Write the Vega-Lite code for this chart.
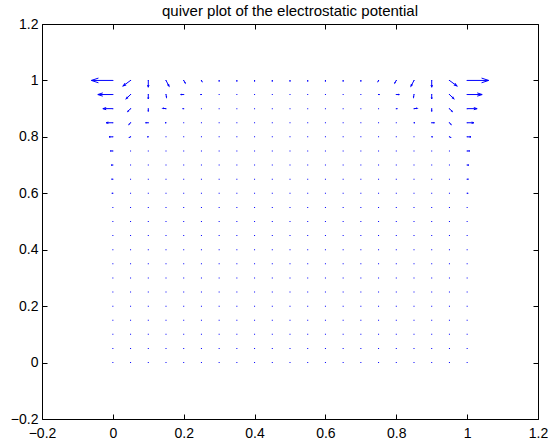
{
  "$schema": "https://vega.github.io/schema/vega-lite/v6.json",
  "width": 548,
  "height": 443,
  "autosize": {"type": "fit", "contains": "padding"},
  "padding": {"left": 10, "top": 4, "right": 0, "bottom": 3},
  "background": "white",
  "title": {"text": "quiver plot of the electrostatic potential", "font": "Liberation Sans", "fontSize": 15, "fontWeight": "normal", "color": "#000000", "offset": -2, "anchor": "middle"},
  "config": {
    "view": {"stroke": "#000000", "strokeWidth": 1},
    "axis": {"grid": false, "title": null, "labelFont": "Liberation Sans", "labelFontSize": 14, "labelColor": "black", "ticks": true, "tickColor": "#000000", "tickWidth": 1, "domain": false, "tickSize": 5, "offset": -5, "labelFlush": false, "labelOverlap": false, "format": "~g"}
  },
  "datasets": {
    "grid": [
      {"x":0,"y":0},{"x":0.05,"y":0},{"x":0.1,"y":0},{"x":0.15,"y":0},{"x":0.2,"y":0},{"x":0.25,"y":0},{"x":0.3,"y":0},{"x":0.35,"y":0},{"x":0.4,"y":0},{"x":0.45,"y":0},{"x":0.5,"y":0},{"x":0.55,"y":0},{"x":0.6,"y":0},{"x":0.65,"y":0},{"x":0.7,"y":0},{"x":0.75,"y":0},{"x":0.8,"y":0},{"x":0.85,"y":0},{"x":0.9,"y":0},{"x":0.95,"y":0},{"x":1,"y":0},
      {"x":0,"y":0.05},{"x":0.05,"y":0.05},{"x":0.1,"y":0.05},{"x":0.15,"y":0.05},{"x":0.2,"y":0.05},{"x":0.25,"y":0.05},{"x":0.3,"y":0.05},{"x":0.35,"y":0.05},{"x":0.4,"y":0.05},{"x":0.45,"y":0.05},{"x":0.5,"y":0.05},{"x":0.55,"y":0.05},{"x":0.6,"y":0.05},{"x":0.65,"y":0.05},{"x":0.7,"y":0.05},{"x":0.75,"y":0.05},{"x":0.8,"y":0.05},{"x":0.85,"y":0.05},{"x":0.9,"y":0.05},{"x":0.95,"y":0.05},{"x":1,"y":0.05},
      {"x":0,"y":0.1},{"x":0.05,"y":0.1},{"x":0.1,"y":0.1},{"x":0.15,"y":0.1},{"x":0.2,"y":0.1},{"x":0.25,"y":0.1},{"x":0.3,"y":0.1},{"x":0.35,"y":0.1},{"x":0.4,"y":0.1},{"x":0.45,"y":0.1},{"x":0.5,"y":0.1},{"x":0.55,"y":0.1},{"x":0.6,"y":0.1},{"x":0.65,"y":0.1},{"x":0.7,"y":0.1},{"x":0.75,"y":0.1},{"x":0.8,"y":0.1},{"x":0.85,"y":0.1},{"x":0.9,"y":0.1},{"x":0.95,"y":0.1},{"x":1,"y":0.1},
      {"x":0,"y":0.15},{"x":0.05,"y":0.15},{"x":0.1,"y":0.15},{"x":0.15,"y":0.15},{"x":0.2,"y":0.15},{"x":0.25,"y":0.15},{"x":0.3,"y":0.15},{"x":0.35,"y":0.15},{"x":0.4,"y":0.15},{"x":0.45,"y":0.15},{"x":0.5,"y":0.15},{"x":0.55,"y":0.15},{"x":0.6,"y":0.15},{"x":0.65,"y":0.15},{"x":0.7,"y":0.15},{"x":0.75,"y":0.15},{"x":0.8,"y":0.15},{"x":0.85,"y":0.15},{"x":0.9,"y":0.15},{"x":0.95,"y":0.15},{"x":1,"y":0.15},
      {"x":0,"y":0.2},{"x":0.05,"y":0.2},{"x":0.1,"y":0.2},{"x":0.15,"y":0.2},{"x":0.2,"y":0.2},{"x":0.25,"y":0.2},{"x":0.3,"y":0.2},{"x":0.35,"y":0.2},{"x":0.4,"y":0.2},{"x":0.45,"y":0.2},{"x":0.5,"y":0.2},{"x":0.55,"y":0.2},{"x":0.6,"y":0.2},{"x":0.65,"y":0.2},{"x":0.7,"y":0.2},{"x":0.75,"y":0.2},{"x":0.8,"y":0.2},{"x":0.85,"y":0.2},{"x":0.9,"y":0.2},{"x":0.95,"y":0.2},{"x":1,"y":0.2},
      {"x":0,"y":0.25},{"x":0.05,"y":0.25},{"x":0.1,"y":0.25},{"x":0.15,"y":0.25},{"x":0.2,"y":0.25},{"x":0.25,"y":0.25},{"x":0.3,"y":0.25},{"x":0.35,"y":0.25},{"x":0.4,"y":0.25},{"x":0.45,"y":0.25},{"x":0.5,"y":0.25},{"x":0.55,"y":0.25},{"x":0.6,"y":0.25},{"x":0.65,"y":0.25},{"x":0.7,"y":0.25},{"x":0.75,"y":0.25},{"x":0.8,"y":0.25},{"x":0.85,"y":0.25},{"x":0.9,"y":0.25},{"x":0.95,"y":0.25},{"x":1,"y":0.25},
      {"x":0,"y":0.3},{"x":0.05,"y":0.3},{"x":0.1,"y":0.3},{"x":0.15,"y":0.3},{"x":0.2,"y":0.3},{"x":0.25,"y":0.3},{"x":0.3,"y":0.3},{"x":0.35,"y":0.3},{"x":0.4,"y":0.3},{"x":0.45,"y":0.3},{"x":0.5,"y":0.3},{"x":0.55,"y":0.3},{"x":0.6,"y":0.3},{"x":0.65,"y":0.3},{"x":0.7,"y":0.3},{"x":0.75,"y":0.3},{"x":0.8,"y":0.3},{"x":0.85,"y":0.3},{"x":0.9,"y":0.3},{"x":0.95,"y":0.3},{"x":1,"y":0.3},
      {"x":0,"y":0.35},{"x":0.05,"y":0.35},{"x":0.1,"y":0.35},{"x":0.15,"y":0.35},{"x":0.2,"y":0.35},{"x":0.25,"y":0.35},{"x":0.3,"y":0.35},{"x":0.35,"y":0.35},{"x":0.4,"y":0.35},{"x":0.45,"y":0.35},{"x":0.5,"y":0.35},{"x":0.55,"y":0.35},{"x":0.6,"y":0.35},{"x":0.65,"y":0.35},{"x":0.7,"y":0.35},{"x":0.75,"y":0.35},{"x":0.8,"y":0.35},{"x":0.85,"y":0.35},{"x":0.9,"y":0.35},{"x":0.95,"y":0.35},{"x":1,"y":0.35},
      {"x":0,"y":0.4},{"x":0.05,"y":0.4},{"x":0.1,"y":0.4},{"x":0.15,"y":0.4},{"x":0.2,"y":0.4},{"x":0.25,"y":0.4},{"x":0.3,"y":0.4},{"x":0.35,"y":0.4},{"x":0.4,"y":0.4},{"x":0.45,"y":0.4},{"x":0.5,"y":0.4},{"x":0.55,"y":0.4},{"x":0.6,"y":0.4},{"x":0.65,"y":0.4},{"x":0.7,"y":0.4},{"x":0.75,"y":0.4},{"x":0.8,"y":0.4},{"x":0.85,"y":0.4},{"x":0.9,"y":0.4},{"x":0.95,"y":0.4},{"x":1,"y":0.4},
      {"x":0,"y":0.45},{"x":0.05,"y":0.45},{"x":0.1,"y":0.45},{"x":0.15,"y":0.45},{"x":0.2,"y":0.45},{"x":0.25,"y":0.45},{"x":0.3,"y":0.45},{"x":0.35,"y":0.45},{"x":0.4,"y":0.45},{"x":0.45,"y":0.45},{"x":0.5,"y":0.45},{"x":0.55,"y":0.45},{"x":0.6,"y":0.45},{"x":0.65,"y":0.45},{"x":0.7,"y":0.45},{"x":0.75,"y":0.45},{"x":0.8,"y":0.45},{"x":0.85,"y":0.45},{"x":0.9,"y":0.45},{"x":0.95,"y":0.45},{"x":1,"y":0.45},
      {"x":0,"y":0.5},{"x":0.05,"y":0.5},{"x":0.1,"y":0.5},{"x":0.15,"y":0.5},{"x":0.2,"y":0.5},{"x":0.25,"y":0.5},{"x":0.3,"y":0.5},{"x":0.35,"y":0.5},{"x":0.4,"y":0.5},{"x":0.45,"y":0.5},{"x":0.5,"y":0.5},{"x":0.55,"y":0.5},{"x":0.6,"y":0.5},{"x":0.65,"y":0.5},{"x":0.7,"y":0.5},{"x":0.75,"y":0.5},{"x":0.8,"y":0.5},{"x":0.85,"y":0.5},{"x":0.9,"y":0.5},{"x":0.95,"y":0.5},{"x":1,"y":0.5},
      {"x":0,"y":0.55},{"x":0.05,"y":0.55},{"x":0.1,"y":0.55},{"x":0.15,"y":0.55},{"x":0.2,"y":0.55},{"x":0.25,"y":0.55},{"x":0.3,"y":0.55},{"x":0.35,"y":0.55},{"x":0.4,"y":0.55},{"x":0.45,"y":0.55},{"x":0.5,"y":0.55},{"x":0.55,"y":0.55},{"x":0.6,"y":0.55},{"x":0.65,"y":0.55},{"x":0.7,"y":0.55},{"x":0.75,"y":0.55},{"x":0.8,"y":0.55},{"x":0.85,"y":0.55},{"x":0.9,"y":0.55},{"x":0.95,"y":0.55},{"x":1,"y":0.55},
      {"x":0,"y":0.6},{"x":0.05,"y":0.6},{"x":0.1,"y":0.6},{"x":0.15,"y":0.6},{"x":0.2,"y":0.6},{"x":0.25,"y":0.6},{"x":0.3,"y":0.6},{"x":0.35,"y":0.6},{"x":0.4,"y":0.6},{"x":0.45,"y":0.6},{"x":0.5,"y":0.6},{"x":0.55,"y":0.6},{"x":0.6,"y":0.6},{"x":0.65,"y":0.6},{"x":0.7,"y":0.6},{"x":0.75,"y":0.6},{"x":0.8,"y":0.6},{"x":0.85,"y":0.6},{"x":0.9,"y":0.6},{"x":0.95,"y":0.6},{"x":1,"y":0.6},
      {"x":0,"y":0.65},{"x":0.05,"y":0.65},{"x":0.1,"y":0.65},{"x":0.15,"y":0.65},{"x":0.2,"y":0.65},{"x":0.25,"y":0.65},{"x":0.3,"y":0.65},{"x":0.35,"y":0.65},{"x":0.4,"y":0.65},{"x":0.45,"y":0.65},{"x":0.5,"y":0.65},{"x":0.55,"y":0.65},{"x":0.6,"y":0.65},{"x":0.65,"y":0.65},{"x":0.7,"y":0.65},{"x":0.75,"y":0.65},{"x":0.8,"y":0.65},{"x":0.85,"y":0.65},{"x":0.9,"y":0.65},{"x":0.95,"y":0.65},{"x":1,"y":0.65},
      {"x":0,"y":0.7},{"x":0.05,"y":0.7},{"x":0.1,"y":0.7},{"x":0.15,"y":0.7},{"x":0.2,"y":0.7},{"x":0.25,"y":0.7},{"x":0.3,"y":0.7},{"x":0.35,"y":0.7},{"x":0.4,"y":0.7},{"x":0.45,"y":0.7},{"x":0.5,"y":0.7},{"x":0.55,"y":0.7},{"x":0.6,"y":0.7},{"x":0.65,"y":0.7},{"x":0.7,"y":0.7},{"x":0.75,"y":0.7},{"x":0.8,"y":0.7},{"x":0.85,"y":0.7},{"x":0.9,"y":0.7},{"x":0.95,"y":0.7},{"x":1,"y":0.7},
      {"x":0,"y":0.75},{"x":0.05,"y":0.75},{"x":0.1,"y":0.75},{"x":0.15,"y":0.75},{"x":0.2,"y":0.75},{"x":0.25,"y":0.75},{"x":0.3,"y":0.75},{"x":0.35,"y":0.75},{"x":0.4,"y":0.75},{"x":0.45,"y":0.75},{"x":0.5,"y":0.75},{"x":0.55,"y":0.75},{"x":0.6,"y":0.75},{"x":0.65,"y":0.75},{"x":0.7,"y":0.75},{"x":0.75,"y":0.75},{"x":0.8,"y":0.75},{"x":0.85,"y":0.75},{"x":0.9,"y":0.75},{"x":0.95,"y":0.75},{"x":1,"y":0.75},
      {"x":0,"y":0.8},{"x":0.05,"y":0.8},{"x":0.1,"y":0.8},{"x":0.15,"y":0.8},{"x":0.2,"y":0.8},{"x":0.25,"y":0.8},{"x":0.3,"y":0.8},{"x":0.35,"y":0.8},{"x":0.4,"y":0.8},{"x":0.45,"y":0.8},{"x":0.5,"y":0.8},{"x":0.55,"y":0.8},{"x":0.6,"y":0.8},{"x":0.65,"y":0.8},{"x":0.7,"y":0.8},{"x":0.75,"y":0.8},{"x":0.8,"y":0.8},{"x":0.85,"y":0.8},{"x":0.9,"y":0.8},{"x":0.95,"y":0.8},{"x":1,"y":0.8},
      {"x":0,"y":0.85},{"x":0.05,"y":0.85},{"x":0.1,"y":0.85},{"x":0.15,"y":0.85},{"x":0.2,"y":0.85},{"x":0.25,"y":0.85},{"x":0.3,"y":0.85},{"x":0.35,"y":0.85},{"x":0.4,"y":0.85},{"x":0.45,"y":0.85},{"x":0.5,"y":0.85},{"x":0.55,"y":0.85},{"x":0.6,"y":0.85},{"x":0.65,"y":0.85},{"x":0.7,"y":0.85},{"x":0.75,"y":0.85},{"x":0.8,"y":0.85},{"x":0.85,"y":0.85},{"x":0.9,"y":0.85},{"x":0.95,"y":0.85},{"x":1,"y":0.85},
      {"x":0,"y":0.9},{"x":0.05,"y":0.9},{"x":0.1,"y":0.9},{"x":0.15,"y":0.9},{"x":0.2,"y":0.9},{"x":0.25,"y":0.9},{"x":0.3,"y":0.9},{"x":0.35,"y":0.9},{"x":0.4,"y":0.9},{"x":0.45,"y":0.9},{"x":0.5,"y":0.9},{"x":0.55,"y":0.9},{"x":0.6,"y":0.9},{"x":0.65,"y":0.9},{"x":0.7,"y":0.9},{"x":0.75,"y":0.9},{"x":0.8,"y":0.9},{"x":0.85,"y":0.9},{"x":0.9,"y":0.9},{"x":0.95,"y":0.9},{"x":1,"y":0.9},
      {"x":0,"y":0.95},{"x":0.05,"y":0.95},{"x":0.1,"y":0.95},{"x":0.15,"y":0.95},{"x":0.2,"y":0.95},{"x":0.25,"y":0.95},{"x":0.3,"y":0.95},{"x":0.35,"y":0.95},{"x":0.4,"y":0.95},{"x":0.45,"y":0.95},{"x":0.5,"y":0.95},{"x":0.55,"y":0.95},{"x":0.6,"y":0.95},{"x":0.65,"y":0.95},{"x":0.7,"y":0.95},{"x":0.75,"y":0.95},{"x":0.8,"y":0.95},{"x":0.85,"y":0.95},{"x":0.9,"y":0.95},{"x":0.95,"y":0.95},{"x":1,"y":0.95},
      {"x":0,"y":1},{"x":0.05,"y":1},{"x":0.1,"y":1},{"x":0.15,"y":1},{"x":0.2,"y":1},{"x":0.25,"y":1},{"x":0.3,"y":1},{"x":0.35,"y":1},{"x":0.4,"y":1},{"x":0.45,"y":1},{"x":0.5,"y":1},{"x":0.55,"y":1},{"x":0.6,"y":1},{"x":0.65,"y":1},{"x":0.7,"y":1},{"x":0.75,"y":1},{"x":0.8,"y":1},{"x":0.85,"y":1},{"x":0.9,"y":1},{"x":0.95,"y":1},{"x":1,"y":1}
    ],
    "arrows": [
      {"x":0,"y":1,"tx":-0.0607,"ty":1,"ang":180,"len":21.5},
      {"x":0.05,"y":1,"tx":0.0291,"ty":0.9806,"ang":143.9,"len":9.16},
      {"x":0.1,"y":1,"tx":0.1,"ty":0.976,"ang":90,"len":6.7},
      {"x":0.15,"y":1,"tx":0.1585,"ty":0.9796,"ang":62.2,"len":6.44},
      {"x":0.2,"y":1,"tx":0.2042,"ty":0.991,"ang":59,"len":2.9},
      {"x":0.25,"y":1,"tx":0.2514,"ty":0.9964,"ang":63,"len":1.1},
      {"x":0.3,"y":1,"tx":0.3,"ty":0.9964,"ang":90,"len":1},
      {"x":0.35,"y":1,"tx":0.35,"ty":0.9964,"ang":90,"len":1},
      {"x":0.4,"y":1,"tx":0.4,"ty":0.9964,"ang":90,"len":1},
      {"x":0.45,"y":1,"tx":0.45,"ty":0.9964,"ang":90,"len":1},
      {"x":0.5,"y":1,"tx":0.5,"ty":0.9964,"ang":90,"len":1},
      {"x":0.55,"y":1,"tx":0.55,"ty":0.9964,"ang":90,"len":1},
      {"x":0.6,"y":1,"tx":0.6,"ty":0.9964,"ang":90,"len":1},
      {"x":0.65,"y":1,"tx":0.65,"ty":0.9964,"ang":90,"len":1},
      {"x":0.7,"y":1,"tx":0.7,"ty":0.9964,"ang":90,"len":1},
      {"x":0.75,"y":1,"tx":0.7486,"ty":0.9964,"ang":117,"len":1.1},
      {"x":0.8,"y":1,"tx":0.7958,"ty":0.991,"ang":121,"len":2.9},
      {"x":0.85,"y":1,"tx":0.8415,"ty":0.9796,"ang":117.8,"len":6.44},
      {"x":0.9,"y":1,"tx":0.9,"ty":0.976,"ang":90,"len":6.7},
      {"x":0.95,"y":1,"tx":0.9709,"ty":0.9806,"ang":36.1,"len":9.16},
      {"x":1,"y":1,"tx":1.0607,"ty":1,"ang":0,"len":21.5},
      {"x":0,"y":0.95,"tx":-0.0424,"ty":0.95,"ang":180,"len":15},
      {"x":0.05,"y":0.95,"tx":0.0379,"ty":0.9357,"ang":137.1,"len":5.87},
      {"x":0.1,"y":0.95,"tx":0.1,"ty":0.9346,"ang":90,"len":4.3},
      {"x":0.15,"y":0.95,"tx":0.1514,"ty":0.9403,"ang":79.5,"len":2.75},
      {"x":0.2,"y":0.95,"tx":0.1915,"ty":0.95,"ang":180,"len":3},
      {"x":0.25,"y":0.95,"tx":0.2472,"ty":0.95,"ang":180,"len":1},
      {"x":0.75,"y":0.95,"tx":0.7528,"ty":0.95,"ang":0,"len":1},
      {"x":0.8,"y":0.95,"tx":0.8085,"ty":0.95,"ang":0,"len":3},
      {"x":0.85,"y":0.95,"tx":0.8486,"ty":0.9403,"ang":100.5,"len":2.75},
      {"x":0.9,"y":0.95,"tx":0.9,"ty":0.9346,"ang":90,"len":4.3},
      {"x":0.95,"y":0.95,"tx":0.9621,"ty":0.9357,"ang":42.9,"len":5.87},
      {"x":1,"y":0.95,"tx":1.0424,"ty":0.95,"ang":0,"len":15},
      {"x":0,"y":0.9,"tx":-0.0282,"ty":0.9,"ang":180,"len":10},
      {"x":0.05,"y":0.9,"tx":0.0424,"ty":0.8903,"ang":135,"len":3.82},
      {"x":0.1,"y":0.9,"tx":0.1,"ty":0.8903,"ang":90,"len":2.7},
      {"x":0.15,"y":0.9,"tx":0.1415,"ty":0.9011,"ang":185.7,"len":3},
      {"x":0.2,"y":0.9,"tx":0.1972,"ty":0.9,"ang":180,"len":1},
      {"x":0.8,"y":0.9,"tx":0.8028,"ty":0.9,"ang":0,"len":1},
      {"x":0.85,"y":0.9,"tx":0.8585,"ty":0.9011,"ang":354.3,"len":3},
      {"x":0.9,"y":0.9,"tx":0.9,"ty":0.8903,"ang":90,"len":2.7},
      {"x":0.95,"y":0.9,"tx":0.9576,"ty":0.8903,"ang":45,"len":3.82},
      {"x":1,"y":0.9,"tx":1.0282,"ty":0.9,"ang":0,"len":10},
      {"x":0,"y":0.85,"tx":-0.0189,"ty":0.85,"ang":180,"len":6.7},
      {"x":0.05,"y":0.85,"tx":0.0458,"ty":0.8446,"ang":135,"len":2.1},
      {"x":0.1,"y":0.85,"tx":0.0924,"ty":0.85,"ang":180,"len":2.7},
      {"x":0.15,"y":0.85,"tx":0.1472,"ty":0.85,"ang":180,"len":1},
      {"x":0.85,"y":0.85,"tx":0.8528,"ty":0.85,"ang":0,"len":1},
      {"x":0.9,"y":0.85,"tx":0.9076,"ty":0.85,"ang":0,"len":2.7},
      {"x":0.95,"y":0.85,"tx":0.9542,"ty":0.8446,"ang":45,"len":2.1},
      {"x":1,"y":0.85,"tx":1.0189,"ty":0.85,"ang":0,"len":6.7},
      {"x":0,"y":0.8,"tx":-0.0107,"ty":0.8,"ang":180,"len":3.8},
      {"x":0.05,"y":0.8,"tx":0.0472,"ty":0.7982,"ang":153,"len":1.1},
      {"x":0.1,"y":0.8,"tx":0.0972,"ty":0.8,"ang":180,"len":1},
      {"x":0.9,"y":0.8,"tx":0.9028,"ty":0.8,"ang":0,"len":1},
      {"x":0.95,"y":0.8,"tx":0.9528,"ty":0.7982,"ang":27,"len":1.1},
      {"x":1,"y":0.8,"tx":1.0107,"ty":0.8,"ang":0,"len":3.8},
      {"x":0,"y":0.75,"tx":-0.0071,"ty":0.75,"ang":180,"len":2.5},
      {"x":1,"y":0.75,"tx":1.0071,"ty":0.75,"ang":0,"len":2.5},
      {"x":0,"y":0.7,"tx":-0.0051,"ty":0.7,"ang":180,"len":1.8},
      {"x":1,"y":0.7,"tx":1.0051,"ty":0.7,"ang":0,"len":1.8},
      {"x":0,"y":0.65,"tx":-0.0034,"ty":0.65,"ang":180,"len":1.2},
      {"x":1,"y":0.65,"tx":1.0034,"ty":0.65,"ang":0,"len":1.2},
      {"x":0,"y":0.6,"tx":-0.0028,"ty":0.6,"ang":180,"len":1},
      {"x":1,"y":0.6,"tx":1.0028,"ty":0.6,"ang":0,"len":1}
    ]
  },
  "layer": [
    {
      "data": {"name": "grid"},
      "mark": {"type": "square", "size": 1, "color": "#0000ff", "opacity": 1},
      "encoding": {
        "x": {"field": "x", "type": "quantitative", "scale": {"domain": [-0.2, 1.2], "nice": false, "zero": false}, "axis": {"orient": "bottom", "values": [-0.2, 0, 0.2, 0.4, 0.6, 0.8, 1, 1.2], "labelPadding": 7}},
        "y": {"field": "y", "type": "quantitative", "scale": {"domain": [-0.2, 1.2], "nice": false, "zero": false}, "axis": {"orient": "left", "values": [-0.2, 0, 0.2, 0.4, 0.6, 0.8, 1, 1.2], "labelPadding": 4}}
      }
    },
    {
      "data": {"name": "arrows"},
      "mark": {"type": "rule", "color": "#0000ff", "strokeWidth": 1},
      "encoding": {
        "x": {"field": "x", "type": "quantitative", "axis": {"orient": "top", "values": [-0.2, 0, 0.2, 0.4, 0.6, 0.8, 1, 1.2], "labels": false}},
        "y": {"field": "y", "type": "quantitative", "axis": {"orient": "right", "values": [-0.2, 0, 0.2, 0.4, 0.6, 0.8, 1, 1.2], "labels": false}},
        "x2": {"field": "tx"},
        "y2": {"field": "ty"}
      }
    },
    {
      "data": {"name": "arrows"},
      "mark": {"type": "point", "shape": "M-1,-0.33L0,0L-1,0.33", "filled": false, "color": "#0000ff", "strokeWidth": 1, "opacity": 1},
      "encoding": {
        "x": {"field": "tx", "type": "quantitative", "axis": null},
        "y": {"field": "ty", "type": "quantitative", "axis": null},
        "angle": {"field": "ang", "type": "quantitative", "scale": null},
        "size": {"field": "len", "type": "quantitative", "scale": {"type": "pow", "exponent": 2, "domain": [0, 21.5], "range": [0, 201]}, "legend": null}
      }
    }
  ],
  "resolve": {"axis": {"x": "independent", "y": "independent"}}
}
